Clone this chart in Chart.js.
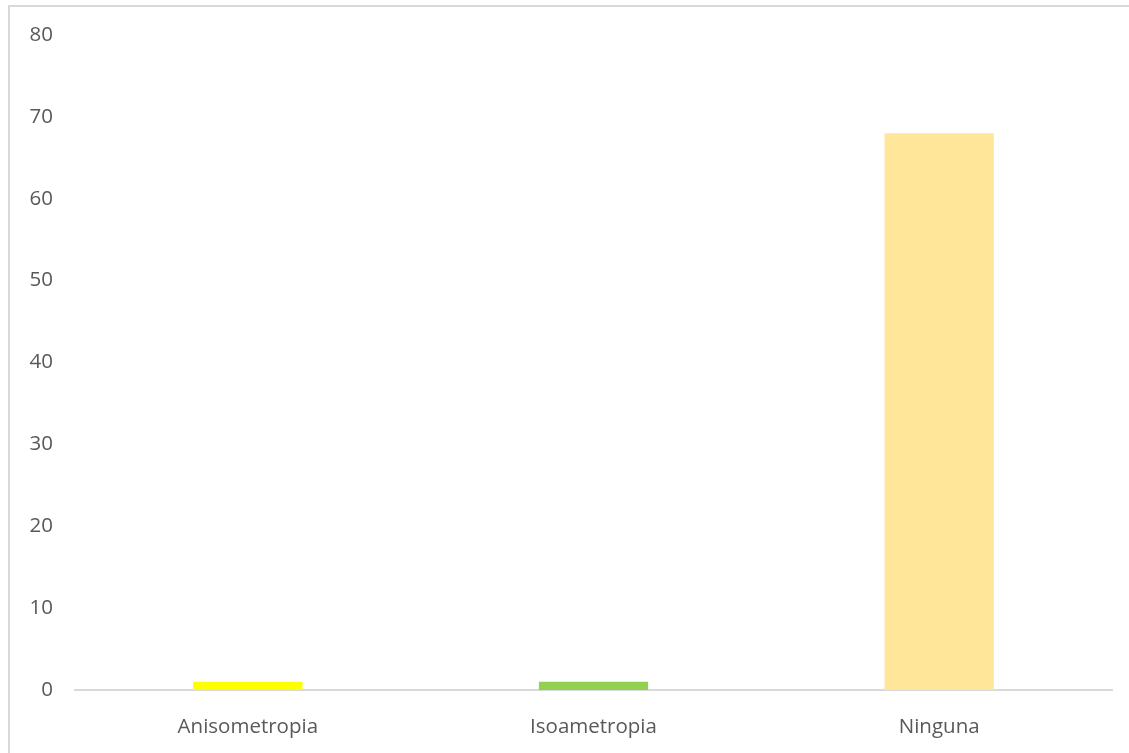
<!DOCTYPE html>
<html>
<head>
<meta charset="utf-8">
<script src="https://cdn.jsdelivr.net/npm/chart.js@4"></script>
<style>
  body { margin:0; background:#fff; }
  #marco { position:absolute; left:8px; top:5px; width:1200px; height:800px; border-left:2px solid #d9d9d9; border-top:2px solid #d9d9d9; }
  #caja { position:absolute; left:0; top:0; width:1129px; height:753px; }
</style>
</head>
<body>
<div id="marco"></div>
<div id="caja"><canvas id="grafbarras"></canvas></div>
<script>
var categorias = ["Anisometropia", "Isoametropia", "Ninguna"];
var cantidades = [1, 1, 68];
var colores = ["#FFFF00", "#92D050", "#FFE699"];
var ymax = 80;
var ypaso = 10;

var fuente = { family: "Open Sans", size: 20.5 };

var isbarchart = document.getElementById("grafbarras");
var barChart = new Chart(isbarchart, {
    type: "bar",
    data: {
        labels: categorias,
        datasets: [
            {
                data: cantidades,
                backgroundColor: colores,
                borderWidth: 0,
                categoryPercentage: 1,
                barPercentage: 0.316
            }
        ]
    },
    options: {
        responsive: true,
        maintainAspectRatio: false,
        animation: false,
        layout: { padding: { top: 35, right: 17, bottom: 0, left: 0 } },
        plugins: { legend: { display: false }, tooltip: { enabled: false } },
        scales: {
            x: {
                grid: { display: false },
                border: { display: true, color: "#d9d9d9", width: 2 },
                ticks: { color: "#595959", font: fuente, padding: 17 },
                afterFit: function(scale){ scale.height = 63; }
            },
            y: {
                min: 0,
                max: ymax,
                grid: { display: false },
                border: { display: false },
                ticks: { stepSize: ypaso, color: "#595959", font: fuente, padding: 14 },
                afterFit: function(scale){ scale.width = 75; }
            }
        }
    }
});
</script>
</body>
</html>
